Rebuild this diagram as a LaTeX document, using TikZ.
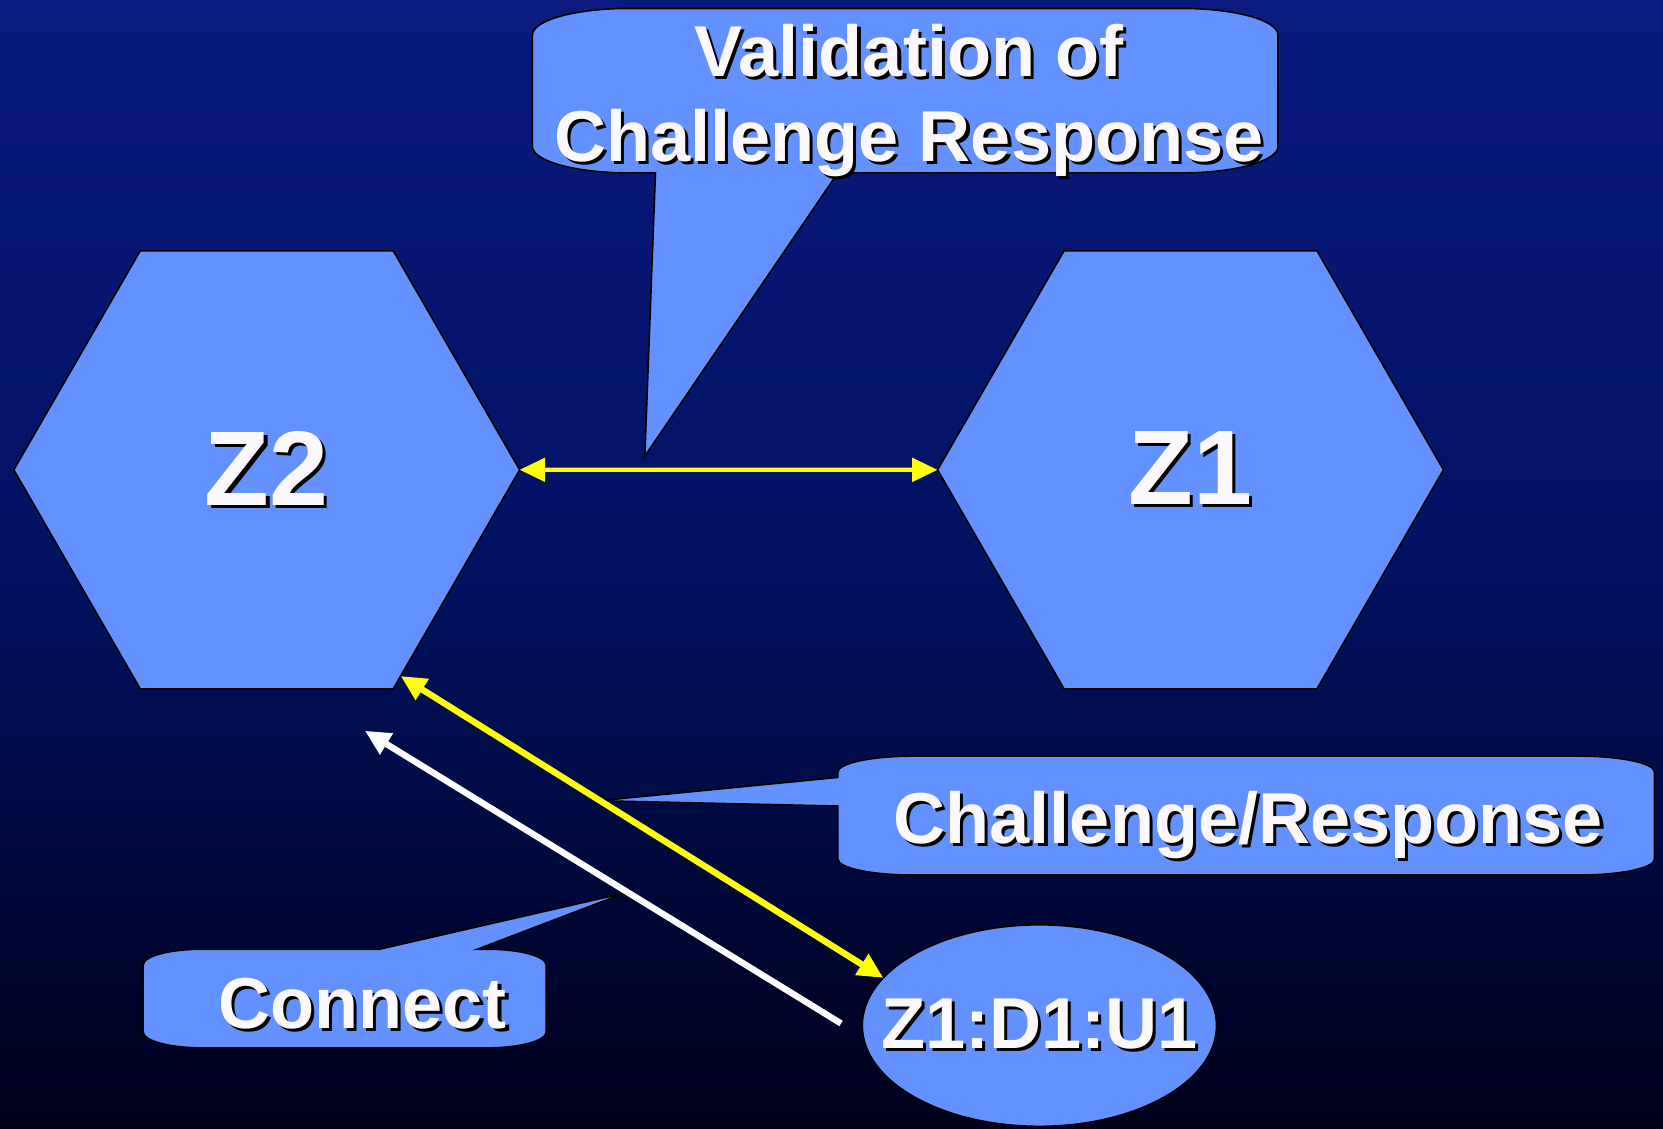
\documentclass[tikz,border=0pt]{standalone}
\usepackage{fontspec}
\setmainfont{Liberation Sans}
\usepackage{tikz}
\usetikzlibrary{shapes.geometric, arrows.meta, calc}
\definecolor{bgTop}{HTML}{0B1A80}
\definecolor{bgMid}{HTML}{011262}
\definecolor{bgBottom}{HTML}{00001A}
\definecolor{zoneFill}{HTML}{6391FF}
\definecolor{arrowYellow}{HTML}{FFFF00}
\definecolor{labelWhite}{HTML}{FCF8FC}

% white text with a black drop shadow
\newcommand{\shadowed}[1]{\makebox[0pt][l]{\hspace{3pt}\raisebox{-3pt}{\color{black}#1}}#1}

\begin{document}
\begin{tikzpicture}[
  x=1pt, y=1pt,
  zone/.style={regular polygon, regular polygon sides=6, minimum size=477pt, inner sep=0pt, outer sep=0pt, fill=zoneFill, draw=black, line width=1.5pt, text=labelWhite, font=\fontsize{100}{120}\selectfont\bfseries},
  user/.style={ellipse, minimum width=334pt, minimum height=190pt, inner sep=0pt, outer sep=0pt, fill=zoneFill, draw=black, line width=1.5pt, text=labelWhite, font=\fontsize{68}{80}\selectfont\bfseries},
  callout/.style={fill=zoneFill, draw=black, line width=1.5pt},
  tag/.style={text=labelWhite, font=\fontsize{68}{80}\selectfont\bfseries, inner sep=0pt},
  yarrow/.style={draw=arrowYellow, line width=6pt, {Triangle[length=24pt, width=22pt]}-{Triangle[length=24pt, width=22pt]}},
  warrow/.style={draw=white, line width=6pt, -{Triangle[length=24pt, width=22pt]}}
]
  % Background
  \shade[top color=bgTop, bottom color=bgBottom, middle color=bgMid] (0,0) rectangle (1568,1064);

  % Zones
  \node (z2) [zone] at (251.5,621) {\shadowed{Z2}};
  \node (z1) [zone] at (1122.5,621) {\shadowed{Z1}};

  % Callouts
  \draw[callout, x radius=90pt, y radius=25pt] (618,901) -- (608,634) -- (790,901) -- (1115,901)
    arc[start angle=270, end angle=360] -- (1205,1031)
    arc[start angle=0, end angle=90] -- (592,1056)
    arc[start angle=90, end angle=180] -- (502,926)
    arc[start angle=180, end angle=270] -- cycle;
  \draw[callout, x radius=70pt, y radius=15pt] (790,331) -- (565,309) -- (790,304) -- (790,254)
    arc[start angle=180, end angle=270] -- (1490,239)
    arc[start angle=270, end angle=360] -- (1560,336)
    arc[start angle=0, end angle=90] -- (860,351)
    arc[start angle=90, end angle=180] -- cycle;
  \draw[callout, x radius=55pt, y radius=15pt] (358,169) -- (589,222) -- (450,169) -- (460,169)
    arc[start angle=90, end angle=0] -- (515,91)
    arc[start angle=0, end angle=-90] -- (190,76)
    arc[start angle=270, end angle=180] -- (135,154)
    arc[start angle=180, end angle=90] -- cycle;

  \node (valtxt) [tag, align=center] at (857,968) {\shadowed{Validation of}\\\shadowed{Challenge Response}};
  \node (crtxt) [tag, anchor=base] at (1177,269) {\shadowed{Challenge/Response}};
  \node (contxt) [tag, anchor=base] at (342,94) {\shadowed{Connect}};

  % User
  \node (z1du) [user] at (980,97) {\makebox[0pt]{\shadowed{Z1:D1:U1}}};

  % Connectors
  \coordinate (wfrom) at (793,99);
  \coordinate (wto) at (344,375);
  \draw[yarrow, line width=4pt] (z2.0) -- (z1.180);
  \draw[yarrow] (z2.-57) -- (z1du.163);
  \draw[warrow] (wfrom) -- (wto);
\end{tikzpicture}
\end{document}
